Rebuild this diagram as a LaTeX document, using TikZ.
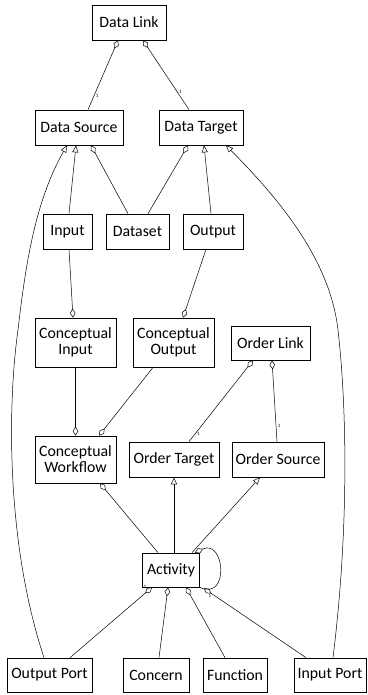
\documentclass[tikz,border=0pt]{standalone}
\usepackage{fontspec}
\setmainfont{Carlito}
\usetikzlibrary{arrows.meta}
\begin{document}
\begin{tikzpicture}[x=1pt,y=-1pt,
  cls/.style={draw, line width=0.7pt, inner sep=0pt, align=center,
    font=\fontsize{15.8}{16}\selectfont},
  lnk/.style={line width=0.5pt},
  agg/.style={lnk, {Diamond[open,length=9pt,width=5.5pt]}-},
  inh/.style={lnk, -{Triangle[open,length=7pt,width=6pt]}},
  mul/.style={font=\fontsize{5}{5}\selectfont, inner sep=1.5pt}]
\useasboundingbox (0,0) rectangle (367,695);
\node[cls, minimum width=74, minimum height=35] (dlink) at (129,22.5){Data Link};
\node[cls, minimum width=88, minimum height=35] (dsrc) at (79,127.5){Data Source};
\node[cls, minimum width=84, minimum height=35] (dtgt) at (201,127.5){Data Target};
\node[cls, minimum width=49, minimum height=35] (inp) at (67.5,231.5){Input};
\node[cls, minimum width=63, minimum height=35] (dset) at (137.5,231.5){Dataset};
\node[cls, minimum width=60, minimum height=35] (outp) at (213,231.5){Output};
\node[cls, minimum width=81, minimum height=49] (cinp) at (75.5,342.5){Conceptual\\Input};
\node[cls, minimum width=81, minimum height=49] (coutp) at (173.5,342.5){Conceptual\\Output};
\node[cls, minimum width=79, minimum height=34] (olink) at (270.5,343){Order Link};
\node[cls, minimum width=81, minimum height=47] (cwf) at (75.5,459.5){Conceptual\\Workflow};
\node[cls, minimum width=90, minimum height=35] (otgt) at (174,459.5){Order Target};
\node[cls, minimum width=92, minimum height=35] (osrc) at (278,459.5){Order Source};
\node[cls, minimum width=57, minimum height=34] (act) at (171,570){Activity};
\node[cls, minimum width=85, minimum height=34] (oport) at (49.5,675){Output Port};
\node[cls, minimum width=66, minimum height=34] (concern) at (156,675){Concern};
\node[cls, minimum width=64, minimum height=34] (func) at (235,675){Function};
\node[cls, minimum width=72, minimum height=34] (iport) at (330,675){Input Port};

\draw[agg] ([xshift=-11pt]dlink.south) -- node[mul, pos=0.8, right]{1} ([xshift=9pt]dsrc.north);
\draw[agg] ([xshift=14pt]dlink.south) -- node[mul, pos=0.75, right]{1} ([xshift=-12pt]dtgt.north);
\draw[agg] ([xshift=12pt]dsrc.south) -- ([xshift=-9.5pt]dset.north);
\draw[agg] ([xshift=-13pt]dtgt.south) -- ([xshift=10.5pt]dset.north);
\draw[inh] ([xshift=1.5pt]inp.north) -- ([xshift=-3pt]dsrc.south);
\draw[inh] ([xshift=-2pt]outp.north) -- ([xshift=3pt]dtgt.south);
\draw[agg] ([xshift=-2.5pt]cinp.north) -- ([xshift=1.5pt]inp.south);
\draw[agg] ([xshift=9.5pt]coutp.north) -- ([xshift=-7pt]outp.south);
\draw[agg] (cwf.north) -- (cinp.south);
\draw[agg] ([xshift=23.5pt]cwf.north) -- ([xshift=-20.5pt]coutp.south);
\draw[agg] ([xshift=-17.5pt]olink.south) -- node[mul, pos=0.9, right]{1} ([xshift=15pt]otgt.north);
\draw[agg] ([xshift=1.5pt]olink.south) -- node[mul, pos=0.8, right]{1} ([xshift=-1pt]osrc.north);
\draw[agg] ([xshift=24.5pt]cwf.south) -- ([xshift=-13pt]act.north);
\draw[inh] ([xshift=3pt]act.north) -- (otgt.south);
\draw[inh] ([xshift=21pt]act.north) -- ([xshift=-18pt]osrc.south);
\draw[agg] ([xshift=-5pt]act.north east) .. controls +(30,-14) and +(30,14) .. (act.south east);
\draw[agg] ([xshift=-19pt]act.south) -- node[mul, pos=0, left, xshift=-4pt]{1} ([xshift=20.5pt]oport.north);
\draw[agg] ([xshift=-3pt]act.south) -- ([xshift=3pt]concern.north);
\draw[agg] ([xshift=15pt]act.south) -- ([xshift=-10pt]func.north);
\draw[agg] ([xshift=4pt,yshift=-1pt]act.south east) -- node[mul, pos=0.06, below]{1} ([xshift=-24pt]iport.north);
\draw[inh] ([xshift=-5.5pt]oport.north) .. controls (5,540) and (8,400) .. (18,330)
  .. controls (26,260) and (36,200) .. ([xshift=-12pt]dsrc.south);
\draw[inh] ([xshift=3pt]iport.north) .. controls (350,520) and (346,400) .. (338,330)
  .. controls (330,260) and (280,200) .. ([xshift=25pt]dtgt.south);
\end{tikzpicture}
\end{document}
